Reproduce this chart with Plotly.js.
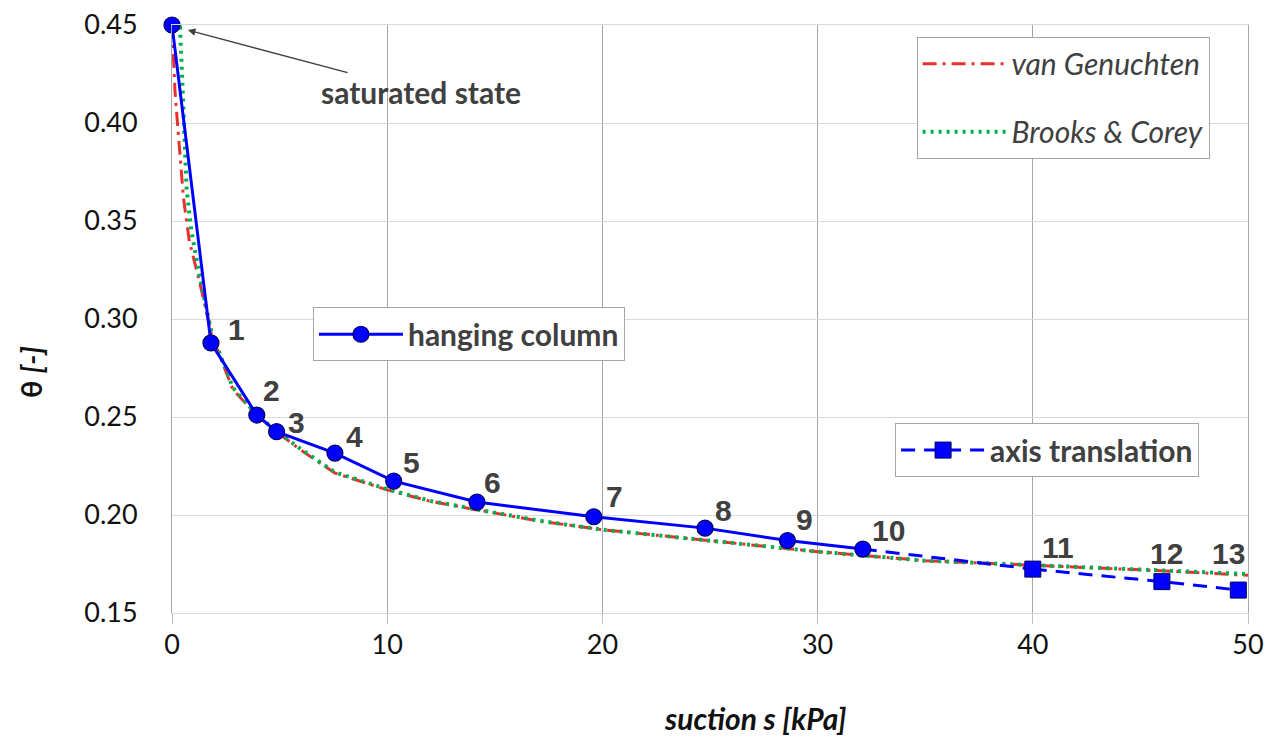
<!DOCTYPE html>
<html><head><meta charset="utf-8">
<script src="https://cdn.plot.ly/plotly-3.0.1.min.js"></script>
<style>html,body{margin:0;padding:0;background:#fff}#chart{width:1277px;height:740px}</style>
</head><body><div id="chart"></div>
<script>
// measured data
const hangingS = [0, 1.81, 3.94, 4.86, 7.57, 10.3, 14.17, 19.6, 24.77, 28.6, 32.1];
const hangingT = [0.45, 0.2878, 0.251, 0.2425, 0.2316, 0.2173, 0.2066, 0.1991, 0.1933, 0.1870, 0.1826];
const axisS = [40.0, 46.0, 49.55];
const axisT = [0.1724, 0.1660, 0.1617];
const vgS = [0, 0.05, 0.14, 0.29, 0.53, 0.8, 1.3, 1.84, 2.83, 3.94, 4.86, 6, 7.57, 10, 12, 14.2, 17, 20, 25, 30, 35, 40, 45.5, 50];
const vgT = [0.45, 0.435, 0.416, 0.395, 0.362, 0.340, 0.318, 0.292, 0.264, 0.251, 0.2425, 0.233, 0.2214, 0.2128, 0.207, 0.2026, 0.197, 0.1925, 0.1869, 0.1813, 0.1767, 0.1745, 0.1718, 0.1692];
const bcS = [0, 0.37, 0.45, 0.53, 0.68, 0.9, 1.3, 1.84, 2.83, 3.94, 4.86, 6, 7.57, 10, 12, 14.2, 17, 20, 25, 30, 35, 40, 45.5, 50];
const bcT = [0.45, 0.449, 0.429, 0.407, 0.366, 0.345, 0.321, 0.293, 0.265, 0.251, 0.2428, 0.2335, 0.2218, 0.2132, 0.2072, 0.2028, 0.1972, 0.1925, 0.1869, 0.1813, 0.1767, 0.1745, 0.1721, 0.1699];
const pointLabels = ['1','2','3','4','5','6','7','8','9','10','11','12','13'];
const xTicks = [0, 10, 20, 30, 40, 50];
const yTicks = [0.15, 0.20, 0.25, 0.30, 0.35, 0.40, 0.45];

// label placement (styling): pixel shifts of each number from its point
const labelShiftX = [26, 15, 20, 20, 18, 16, 21, 18, 17, 26, 25, 5, -10];
const labelShiftY = [13, 25, 9, 17, 19, 20, 20, 18, 21, 19, 22, 28, 37];

const labelS = hangingS.slice(1).concat(axisS);
const labelT = hangingT.slice(1).concat(axisT);

const gray = '#404040';
const traces = [
  {x: vgS, y: vgT, mode: 'lines', name: 'van Genuchten', legend: 'legend', legendgroup: 'vg',
   line: {color: '#e8312f', width: 3, dash: '14px,6px,3px,6px'}, cliponaxis: false},
  {x: bcS, y: bcT, mode: 'lines', name: 'Brooks & Corey', legend: 'legend', legendgroup: 'bc',
   line: {color: '#00b050', width: 4, dash: '3px,5px'}, cliponaxis: false},
  {x: [hangingS[hangingS.length-1], axisS[0]], y: [hangingT[hangingT.length-1], axisT[0]], mode: 'lines',
   showlegend: false, line: {color: '#0000ff', width: 3, dash: '14px,9px'}},
  {x: hangingS, y: hangingT, mode: 'lines+markers', name: 'hanging column', legend: 'legend2',
   line: {color: '#0000ff', width: 3},
   marker: {symbol: 'circle', size: 16, color: '#0000ff', line: {color: '#000060', width: 1.2}}, cliponaxis: false},
  {x: axisS, y: axisT, mode: 'lines+markers', name: 'axis translation', legend: 'legend3',
   line: {color: '#0000ff', width: 3, dash: '14px,9px'},
   marker: {symbol: 'square', size: 16, color: '#0000ff', line: {color: '#000060', width: 1}}, cliponaxis: false}
];

const legendBase = {bgcolor: '#ffffff', bordercolor: '#a6a6a6', borderwidth: 1, itemwidth: 84,
  xanchor: 'left', yanchor: 'top'};

const labelAnnots = pointLabels.map((t, i) => ({
  x: labelS[i], y: labelT[i], xref: 'x', yref: 'y', text: t, showarrow: false,
  xshift: labelShiftX[i], yshift: labelShiftY[i],
  font: {family: 'Liberation Sans, Arial, sans-serif', size: 30, color: gray, weight: 'bold'}
}));

const layout = {
  width: 1277, height: 740,
  margin: {l: 172, r: 29, t: 25, b: 127},
  paper_bgcolor: '#ffffff', plot_bgcolor: '#ffffff',
  font: {family: 'Lato, Open Sans, sans-serif', color: '#1a1a1a'},
  xaxis: {range: [0, 50], tickvals: xTicks, ticktext: xTicks.map(String), showgrid: true, gridcolor: '#a6a6a6', gridwidth: 1,
    showline: true, mirror: true, linecolor: '#d9d9d9', zeroline: false,
    ticks: 'outside', ticklen: 10, tickcolor: '#bfbfbf', ticklabelstandoff: -2,
    tickfont: {size: 27, family: 'Lato, sans-serif', color: '#111111'}},
  yaxis: {range: [0.15, 0.45], tickvals: yTicks, ticktext: yTicks.map(v => v.toFixed(2)), showgrid: true, gridcolor: '#d9d9d9',
    showline: true, mirror: true, linecolor: '#a6a6a6', zeroline: false, ticks: '', ticklabelstandoff: 28,
    tickfont: {size: 27, family: 'Lato, sans-serif', color: '#111111'}},
  showlegend: true,
  legend: Object.assign({}, legendBase, {x: 0.692, y: 0.98, tracegroupgap: 26, traceorder: 'grouped',
    font: {size: 30, color: gray, family: 'Lato, sans-serif', style: 'italic'}}),
  legend2: Object.assign({}, legendBase, {x: 0.131, y: 0.52,
    font: {size: 30, color: gray, family: 'Lato, sans-serif', weight: 'bold'}}),
  legend3: Object.assign({}, legendBase, {x: 0.672, y: 0.323,
    font: {size: 30, color: gray, family: 'Lato, sans-serif', weight: 'bold'}}),
  annotations: [
    {x: 0.74, y: 0.4474, xref: 'x', yref: 'y', text: 'saturated state', showarrow: true,
     ax: 233, ay: 62, arrowhead: 2, arrowsize: 1, arrowwidth: 1.5, arrowcolor: gray,
     font: {size: 30, color: gray, family: 'Lato, sans-serif', weight: 'bold'}},
    {x: 0.542, y: -0.179, xref: 'paper', yref: 'paper', xanchor: 'center', yanchor: 'middle',
     text: 'suction s [kPa]', showarrow: false,
     font: {size: 30, color: '#111111', family: 'Lato, sans-serif', weight: 'bold', style: 'italic'}},
    {x: -0.131, y: 0.41, xref: 'paper', yref: 'paper', xanchor: 'center', yanchor: 'middle',
     text: 'θ <i>[-]</i>', textangle: -90, showarrow: false,
     font: {size: 29, color: '#111111', family: 'Lato, sans-serif', weight: 'bold'}}
  ].concat(labelAnnots)
};

Plotly.newPlot('chart', traces, layout, {displayModeBar: false, staticPlot: true});
</script>
</body></html>
